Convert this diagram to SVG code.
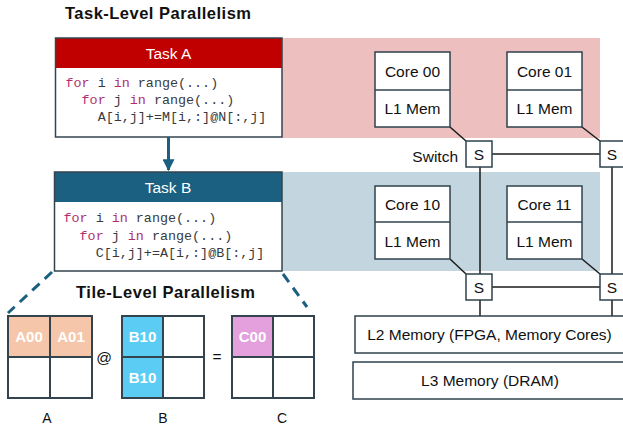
<svg xmlns="http://www.w3.org/2000/svg" width="623" height="428" viewBox="0 0 623 428">
<style>
  .title{font-family:"Liberation Sans",Arial,sans-serif;font-weight:bold;font-size:16.5px;fill:#111}
  .hdr{font-family:"Liberation Sans",Arial,sans-serif;font-size:15.5px;fill:#fff;text-anchor:middle}
  .code{font-family:"Liberation Mono","DejaVu Sans Mono",monospace;font-size:13.4px;fill:#3a3a3a}
  .kw{fill:#B03070}
  .lbl{font-family:"Liberation Sans",Arial,sans-serif;font-size:15.5px;fill:#111;text-anchor:middle}
  .axis{font-family:"Liberation Sans",Arial,sans-serif;font-size:14px;fill:#111;text-anchor:middle}
  .box{fill:#fff;stroke:#2f424d;stroke-width:1.5}
  .grid{fill:none;stroke:#34444e;stroke-width:2}
  .tile{font-family:"Liberation Sans",Arial,sans-serif;font-weight:bold;font-size:15px;fill:#fff;text-anchor:middle}
  .wire{stroke:#1a1a1a;stroke-width:1.5;fill:none}
  .dash{stroke:#1B5F81;stroke-width:3;stroke-dasharray:10 7;fill:none}
</style>
<defs>
  <marker id="ah" markerWidth="4" markerHeight="4" refX="3.6" refY="2" orient="auto" markerUnits="strokeWidth">
    <path d="M0,0 L4,2 L0,4 Z" fill="#1B5F81"/>
  </marker>
</defs>

<text class="title" x="65" y="19" textLength="186">Task-Level Parallelism</text>

<rect x="282" y="38" width="318" height="100" fill="#EDBFBF"/>
<rect x="282" y="172" width="318" height="99" fill="#C3D5DF"/>

<g id="taskA">
  <rect x="55.5" y="38" width="226.5" height="30" fill="#C00000"/>
  <rect x="55.5" y="68" width="226.5" height="69" fill="#fff"/>
  <rect x="55.5" y="38" width="226.5" height="99" fill="none" stroke="#34444e" stroke-width="1.5"/>
  <text class="hdr" x="168.5" y="59">Task A</text>
  <text class="code" x="65.5" y="87"><tspan class="kw">for</tspan> i <tspan class="kw">in</tspan> range(...)</text>
  <text class="code" x="65.5" y="104" xml:space="preserve">  <tspan class="kw">for</tspan> j <tspan class="kw">in</tspan> range(...)</text>
  <text class="code" x="65.5" y="121" xml:space="preserve">    A[i,j]+=M[i,:]@N[:,j]</text>
</g>

<g id="taskB">
  <rect x="54.5" y="172" width="227.5" height="30" fill="#1B5F81"/>
  <rect x="54.5" y="202" width="227.5" height="69" fill="#fff"/>
  <rect x="54.5" y="172" width="227.5" height="99" fill="none" stroke="#34444e" stroke-width="1.5"/>
  <text class="hdr" x="168" y="193">Task B</text>
  <text class="code" x="63.5" y="222"><tspan class="kw">for</tspan> i <tspan class="kw">in</tspan> range(...)</text>
  <text class="code" x="63.5" y="239.5" xml:space="preserve">  <tspan class="kw">for</tspan> j <tspan class="kw">in</tspan> range(...)</text>
  <text class="code" x="63.5" y="257" xml:space="preserve">    C[i,j]+=A[i,:]@B[:,j]</text>
</g>

<g id="connectors">
  <line x1="168.5" y1="137" x2="168.5" y2="170" stroke="#1B5F81" stroke-width="3" marker-end="url(#ah)"/>
  <line class="dash" x1="52" y1="272" x2="8" y2="313"/>
  <line class="dash" x1="283" y1="274" x2="307" y2="307"/>
  <line class="wire" x1="450" y1="127" x2="466" y2="141"/>
  <line class="wire" x1="582" y1="127" x2="600" y2="141"/>
  <line class="wire" x1="450" y1="259" x2="466" y2="274"/>
  <line class="wire" x1="582" y1="259" x2="600" y2="274"/>
  <line class="wire" x1="492" y1="154" x2="600" y2="154"/>
  <line class="wire" x1="492" y1="287" x2="600" y2="287"/>
  <line class="wire" x1="480" y1="167" x2="480" y2="274"/>
  <line class="wire" x1="612" y1="167" x2="612" y2="274"/>
  <line class="wire" x1="480" y1="300" x2="480" y2="316"/>
  <line class="wire" x1="612" y1="300" x2="612" y2="316"/>
</g>

<g id="core00">
  <rect class="box" x="375" y="52" width="75" height="75"/>
  <line x1="375" y1="90" x2="450" y2="90" stroke="#2f424d" stroke-width="1.5"/>
  <text class="lbl" x="412.5" y="77">Core 00</text>
  <text class="lbl" x="412.5" y="114">L1 Mem</text>
</g>
<g id="core01">
  <rect class="box" x="507" y="52" width="75" height="75"/>
  <line x1="507" y1="90" x2="582" y2="90" stroke="#2f424d" stroke-width="1.5"/>
  <text class="lbl" x="544.5" y="77">Core 01</text>
  <text class="lbl" x="544.5" y="114">L1 Mem</text>
</g>
<g id="core10">
  <rect class="box" x="375" y="186" width="75" height="73"/>
  <line x1="375" y1="222" x2="450" y2="222" stroke="#2f424d" stroke-width="1.5"/>
  <text class="lbl" x="412.5" y="210">Core 10</text>
  <text class="lbl" x="412.5" y="247">L1 Mem</text>
</g>
<g id="core11">
  <rect class="box" x="507" y="186" width="75" height="73"/>
  <line x1="507" y1="222" x2="582" y2="222" stroke="#2f424d" stroke-width="1.5"/>
  <text class="lbl" x="544.5" y="210">Core 11</text>
  <text class="lbl" x="544.5" y="247">L1 Mem</text>
</g>

<text class="lbl" x="458" y="162" style="text-anchor:end">Switch</text>
<g id="s00"><rect class="box" x="466" y="141" width="26" height="26"/><text class="lbl" x="479" y="160">S</text></g>
<g id="s01"><rect class="box" x="600" y="141" width="26" height="26"/><text class="lbl" x="612" y="160">S</text></g>
<g id="s10"><rect class="box" x="466" y="274" width="26" height="26"/><text class="lbl" x="479" y="293">S</text></g>
<g id="s11"><rect class="box" x="600" y="274" width="26" height="26"/><text class="lbl" x="612" y="293">S</text></g>

<g id="l2">
  <rect class="box" x="355" y="316" width="275" height="37"/>
  <text class="lbl" x="489.5" y="340">L2 Memory (FPGA, Memory Cores)</text>
</g>
<g id="l3">
  <rect class="box" x="353" y="362" width="277" height="37"/>
  <text class="lbl" x="490" y="386">L3 Memory (DRAM)</text>
</g>

<text class="title" x="76" y="298" textLength="179">Tile-Level Parallelism</text>

<g id="tileA">
  <rect x="8" y="316" width="84" height="41" fill="#F5C6AA"/>
  <rect class="grid" x="8" y="316" width="84" height="82"/>
  <line class="grid" x1="50" y1="316" x2="50" y2="398"/>
  <line class="grid" x1="8" y1="357" x2="92" y2="357"/>
  <text class="tile" x="29" y="342">A00</text>
  <text class="tile" x="71" y="342">A01</text>
  <text class="axis" x="47" y="423">A</text>
</g>
<text class="lbl" x="104" y="363">@</text>
<g id="tileB">
  <rect x="122" y="316" width="41" height="82" fill="#5BCDF5"/>
  <rect class="grid" x="122" y="316" width="82" height="82"/>
  <line class="grid" x1="163" y1="316" x2="163" y2="398"/>
  <line class="grid" x1="122" y1="357" x2="204" y2="357"/>
  <text class="tile" x="142.5" y="342">B10</text>
  <text class="tile" x="142.5" y="383">B10</text>
  <text class="axis" x="163" y="423">B</text>
</g>
<text class="lbl" x="217" y="362">=</text>
<g id="tileC">
  <rect x="232" y="316" width="41" height="41" fill="#E3A0DD"/>
  <rect class="grid" x="232" y="316" width="82" height="82"/>
  <line class="grid" x1="273" y1="316" x2="273" y2="398"/>
  <line class="grid" x1="232" y1="357" x2="314" y2="357"/>
  <text class="tile" x="252.5" y="342">C00</text>
  <text class="axis" x="282" y="423">C</text>
</g>
</svg>
